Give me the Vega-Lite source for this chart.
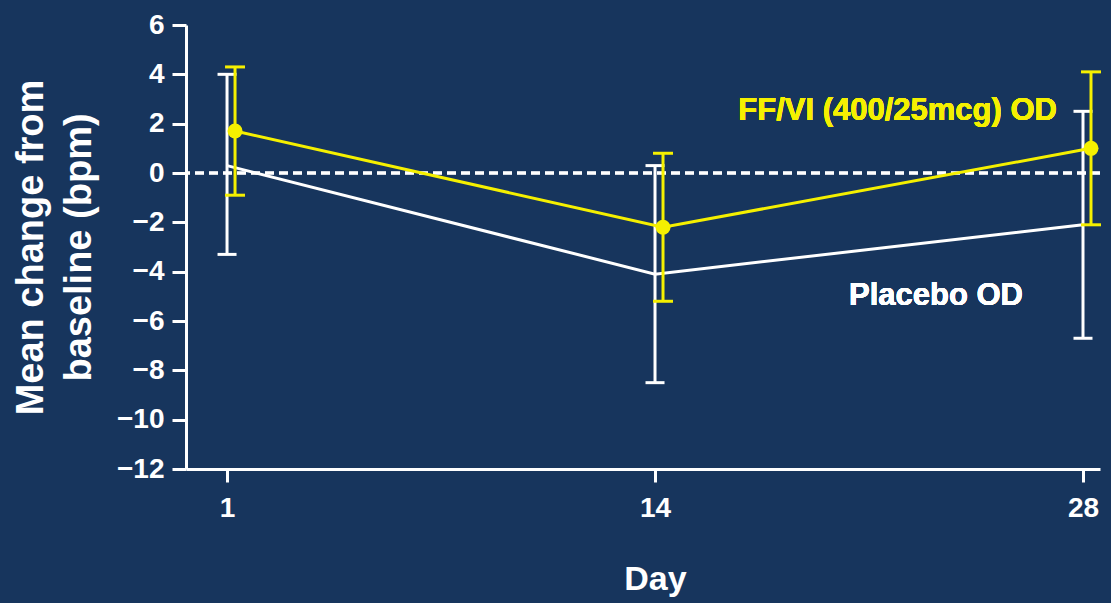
{
  "$schema": "https://vega.github.io/schema/vega-lite/v6.json",
  "autosize": "none",
  "width": 914,
  "height": 444,
  "padding": {"left": 186, "top": 25, "right": 11, "bottom": 134},
  "background": "#17355d",
  "config": {
    "view": {"stroke": null},
    "font": "Liberation Sans",
    "axis": {
      "domainColor": "white", "domainWidth": 3, "tickColor": "white", "tickWidth": 3,
      "labelColor": "white", "labelFont": "Liberation Sans", "labelFontWeight": "bold",
      "titleColor": "white", "titleFont": "Liberation Sans", "titleFontWeight": "bold",
      "grid": false, "labelOverlap": false, "labelFlush": false
    }
  },
  "data": {"values": [
    {"day": 1, "group": "Placebo OD", "mean": 0.3, "lo": -3.3, "hi": 4.0},
    {"day": 14, "group": "Placebo OD", "mean": -4.1, "lo": -8.5, "hi": 0.3},
    {"day": 28, "group": "Placebo OD", "mean": -2.1, "lo": -6.7, "hi": 2.5},
    {"day": 1, "group": "FF/VI (400/25mcg) OD", "mean": 1.7, "lo": -0.9, "hi": 4.3},
    {"day": 14, "group": "FF/VI (400/25mcg) OD", "mean": -2.2, "lo": -5.2, "hi": 0.8},
    {"day": 28, "group": "FF/VI (400/25mcg) OD", "mean": 1.0, "lo": -2.1, "hi": 4.1}
  ]},
  "encoding": {
    "x": {"field": "day", "type": "ordinal",
      "scale": {"type": "point", "domain": [1, 14, 28], "padding": 0.0678, "align": 0.707},
      "axis": {"title": "Day", "labelAngle": 0, "labelFontSize": 28, "tickSize": 13, "labelPadding": 12,
        "titleFontSize": 34, "titlePadding": 40, "titleX": 469}}
  },
  "layer": [
    {
      "mark": {"type": "rule", "color": "white", "strokeWidth": 2.5, "strokeDash": [9, 5]},
      "encoding": {
        "y": {"datum": 0, "type": "quantitative",
          "scale": {"domain": [-12, 6], "nice": false, "zero": false},
          "axis": {"title": ["Mean change from", "baseline (bpm)"], "values": [-12, -10, -8, -6, -4, -2, 0, 2, 4, 6],
            "labelFontSize": 28, "tickSize": 14, "labelPadding": 8, "titleFontSize": 38, "titleLineHeight": 48, "titlePadding": 18}},
        "x": null
      }
    },
    {
      "transform": [{"filter": "datum.group === 'Placebo OD'"}],
      "layer": [
        {"mark": {"type": "rule", "color": "white", "strokeWidth": 3},
         "encoding": {"y": {"field": "lo", "type": "quantitative"}, "y2": {"field": "hi"}}},
        {"mark": {"type": "tick", "color": "white", "opacity": 1, "size": 19, "thickness": 3, "orient": "horizontal"},
         "encoding": {"y": {"field": "lo", "type": "quantitative"}}},
        {"mark": {"type": "tick", "color": "white", "opacity": 1, "size": 19, "thickness": 3, "orient": "horizontal"},
         "encoding": {"y": {"field": "hi", "type": "quantitative"}}},
        {"mark": {"type": "line", "color": "white", "strokeWidth": 3},
         "encoding": {"y": {"field": "mean", "type": "quantitative"}}}
      ]
    },
    {
      "transform": [{"filter": "datum.group !== 'Placebo OD'"}],
      "layer": [
        {"mark": {"type": "rule", "color": "#f5f000", "strokeWidth": 3, "xOffset": 8},
         "encoding": {"y": {"field": "lo", "type": "quantitative"}, "y2": {"field": "hi"}}},
        {"mark": {"type": "tick", "color": "#f5f000", "opacity": 1, "size": 20, "thickness": 3, "orient": "horizontal", "xOffset": 8},
         "encoding": {"y": {"field": "lo", "type": "quantitative"}}},
        {"mark": {"type": "tick", "color": "#f5f000", "opacity": 1, "size": 20, "thickness": 3, "orient": "horizontal", "xOffset": 8},
         "encoding": {"y": {"field": "hi", "type": "quantitative"}}},
        {"mark": {"type": "line", "color": "#f5f000", "strokeWidth": 3, "xOffset": 8},
         "encoding": {"y": {"field": "mean", "type": "quantitative"}}},
        {"mark": {"type": "point", "filled": true, "opacity": 1, "color": "#f5f000", "size": 225, "xOffset": 8},
         "encoding": {"y": {"field": "mean", "type": "quantitative"}}}
      ]
    },
    {
      "mark": {"type": "text", "color": "#f5f000", "font": "Liberation Sans", "fontWeight": "bold", "fontSize": 31, "align": "right", "baseline": "middle", "dx": -26},
      "encoding": {"x": {"datum": 28}, "y": {"datum": 2.5, "type": "quantitative"}, "text": {"value": "FF/VI (400/25mcg) OD"}}
    },
    {
      "mark": {"type": "text", "color": "white", "font": "Liberation Sans", "fontWeight": "bold", "fontSize": 31, "align": "right", "baseline": "middle", "dx": -60},
      "encoding": {"x": {"datum": 28}, "y": {"datum": -5.0, "type": "quantitative"}, "text": {"value": "Placebo OD"}}
    }
  ]
}
